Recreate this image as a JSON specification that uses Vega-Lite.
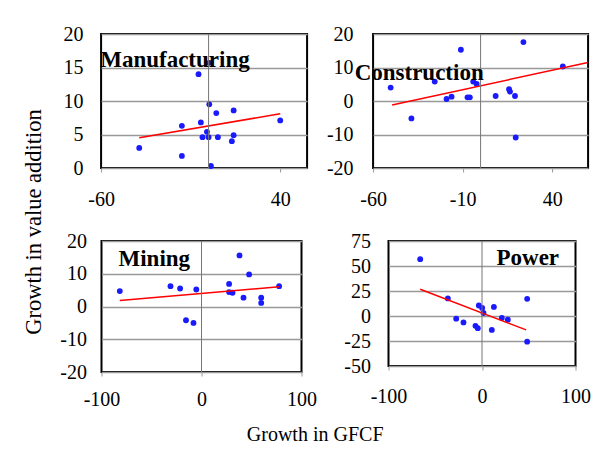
{
  "$schema": "https://vega.github.io/schema/vega-lite/v6.json",
  "background": "white",
  "padding": {"left": 23, "top": 23, "right": 5, "bottom": 5},
  "datasets": {
    "points": [
      {"panel": "Manufacturing", "x": -38.7, "y": 3.0},
      {"panel": "Manufacturing", "x": -14.9, "y": 6.3},
      {"panel": "Manufacturing", "x": -14.9, "y": 1.8},
      {"panel": "Manufacturing", "x": -5.6, "y": 14.0},
      {"panel": "Manufacturing", "x": -4.3, "y": 6.8},
      {"panel": "Manufacturing", "x": -3.4, "y": 4.6},
      {"panel": "Manufacturing", "x": -0.9, "y": 5.4},
      {"panel": "Manufacturing", "x": 0.0, "y": 4.6},
      {"panel": "Manufacturing", "x": 0.4, "y": 9.5},
      {"panel": "Manufacturing", "x": 1.3, "y": 0.3},
      {"panel": "Manufacturing", "x": 4.3, "y": 8.2},
      {"panel": "Manufacturing", "x": 5.2, "y": 4.6},
      {"panel": "Manufacturing", "x": 13.0, "y": 4.0},
      {"panel": "Manufacturing", "x": 14.0, "y": 8.6},
      {"panel": "Manufacturing", "x": 14.0, "y": 4.9},
      {"panel": "Manufacturing", "x": 40.0, "y": 7.1},
      {"panel": "Manufacturing", "x": 0.4, "y": 15.7},
      {"panel": "Construction", "x": -50.2, "y": 4.0},
      {"panel": "Construction", "x": -38.6, "y": -5.2},
      {"panel": "Construction", "x": -25.6, "y": 5.8},
      {"panel": "Construction", "x": -19.0, "y": 0.6},
      {"panel": "Construction", "x": -16.2, "y": 1.3},
      {"panel": "Construction", "x": -11.0, "y": 15.3},
      {"panel": "Construction", "x": -7.3, "y": 1.1},
      {"panel": "Construction", "x": -6.0, "y": 1.1},
      {"panel": "Construction", "x": -4.1, "y": 5.8},
      {"panel": "Construction", "x": -2.2, "y": 5.1},
      {"panel": "Construction", "x": 8.4, "y": 1.5},
      {"panel": "Construction", "x": 15.9, "y": 3.5},
      {"panel": "Construction", "x": 16.4, "y": 2.8},
      {"panel": "Construction", "x": 19.2, "y": 1.5},
      {"panel": "Construction", "x": 19.6, "y": -10.9},
      {"panel": "Construction", "x": 23.9, "y": 17.6},
      {"panel": "Construction", "x": 45.9, "y": 10.3},
      {"panel": "Mining", "x": -81.7, "y": 4.7},
      {"panel": "Mining", "x": -31.0, "y": 6.2},
      {"panel": "Mining", "x": -21.4, "y": 5.5},
      {"panel": "Mining", "x": -15.5, "y": -4.2},
      {"panel": "Mining", "x": -8.0, "y": -5.0},
      {"panel": "Mining", "x": -5.2, "y": 5.2},
      {"panel": "Mining", "x": 27.6, "y": 6.9},
      {"panel": "Mining", "x": 27.6, "y": 4.4},
      {"panel": "Mining", "x": 31.0, "y": 4.2},
      {"panel": "Mining", "x": 38.0, "y": 15.6},
      {"panel": "Mining", "x": 42.0, "y": 2.7},
      {"panel": "Mining", "x": 47.6, "y": 9.8},
      {"panel": "Mining", "x": 59.7, "y": 2.7},
      {"panel": "Mining", "x": 59.7, "y": 1.1},
      {"panel": "Mining", "x": 77.6, "y": 6.2},
      {"panel": "Power", "x": -66.1, "y": 56.8},
      {"panel": "Power", "x": -36.5, "y": 17.6},
      {"panel": "Power", "x": -27.6, "y": -2.7},
      {"panel": "Power", "x": -19.8, "y": -6.4},
      {"panel": "Power", "x": -7.0, "y": -9.8},
      {"panel": "Power", "x": -4.5, "y": -12.2},
      {"panel": "Power", "x": -3.4, "y": 10.5},
      {"panel": "Power", "x": 0.2, "y": 8.1},
      {"panel": "Power", "x": 1.6, "y": 3.0},
      {"panel": "Power", "x": 10.5, "y": -13.9},
      {"panel": "Power", "x": 12.7, "y": 9.1},
      {"panel": "Power", "x": 21.2, "y": -2.0},
      {"panel": "Power", "x": 27.6, "y": -3.7},
      {"panel": "Power", "x": 48.3, "y": 17.2},
      {"panel": "Power", "x": 48.3, "y": -25.7}
    ],
    "trend": [
      {"panel": "Manufacturing", "x": -38.7, "y": 4.5},
      {"panel": "Manufacturing", "x": 40.0, "y": 8.1},
      {"panel": "Construction", "x": -49.4, "y": -1.2},
      {"panel": "Construction", "x": 59.9, "y": 11.5},
      {"panel": "Mining", "x": -81.7, "y": 1.8},
      {"panel": "Mining", "x": 77.6, "y": 6.0},
      {"panel": "Power", "x": -66.1, "y": 26.7},
      {"panel": "Power", "x": 47.2, "y": -13.9}
    ],
    "labels": [
      {"panel": "Manufacturing", "label": "Manufacturing"},
      {"panel": "Construction", "label": "Construction"},
      {"panel": "Mining", "label": "Mining"},
      {"panel": "Power", "label": "Power"}
    ]
  },
  "title": {
    "text": "Growth in value addition",
    "orient": "left",
    "anchor": "middle",
    "font": "Liberation Serif",
    "fontSize": 22.5,
    "fontWeight": "normal",
    "color": "#000",
    "offset": 13,
    "dx": 12
  },
  "center": true,
  "spacing": 20,
  "vconcat": [
    {
      "hconcat": [
        {
          "width": 206,
          "height": 134,
          "layer": [
            {
              "data": {"name": "points"},
              "transform": [{"filter": "datum.panel === 'Manufacturing'"}],
              "mark": {"type": "circle", "size": 34, "color": "#1a1aff", "opacity": 1},
              "encoding": {
                "x": {"field": "x", "type": "quantitative", "scale": {"domain": [-60, 55], "nice": false, "zero": false},
                      "axis": {"values": [-60, 40], "title": null, "labelPadding": 17}},
                "y": {"field": "y", "type": "quantitative", "scale": {"domain": [0, 20], "nice": false},
                      "axis": {"values": [0, 5, 10, 15, 20], "title": null, "labelPadding": 18}}
              }
            },
            {
              "data": {"name": "trend"},
              "transform": [{"filter": "datum.panel === 'Manufacturing'"}],
              "mark": {"type": "line", "color": "#ff0000", "strokeWidth": 1.5},
              "encoding": {
                "x": {"field": "x", "type": "quantitative", "axis": {"values": [-60, 40], "title": null, "labelPadding": 17}},
                "y": {"field": "y", "type": "quantitative", "axis": {"values": [0, 5, 10, 15, 20], "title": null, "labelPadding": 18}}
              }
            },
            {
              "data": {"values": [{}]},
              "mark": {"type": "rule", "color": "#777777", "strokeWidth": 1},
              "encoding": {"x": {"datum": 0, "type": "quantitative", "axis": {"values": [-60, 40], "title": null, "labelPadding": 17}}}
            },
            {
              "data": {"name": "labels"},
              "transform": [{"filter": "datum.panel === 'Manufacturing'"}],
              "mark": {"type": "text", "font": "Liberation Serif", "fontSize": 23, "fontWeight": "bold", "align": "left", "baseline": "middle", "color": "#000"},
              "encoding": {
                "x": {"datum": -60.5, "type": "quantitative", "axis": {"values": [-60, 40], "title": null, "labelPadding": 17}},
                "y": {"datum": 16.1, "type": "quantitative", "axis": {"values": [0, 5, 10, 15, 20], "title": null, "labelPadding": 18}},
                "text": {"field": "label"}
              }
            }
          ]
        },
        {
          "width": 215,
          "height": 134,
          "layer": [
            {
              "data": {"name": "points"},
              "transform": [{"filter": "datum.panel === 'Construction'"}],
              "mark": {"type": "circle", "size": 34, "color": "#1a1aff", "opacity": 1},
              "encoding": {
                "x": {"field": "x", "type": "quantitative", "scale": {"domain": [-60, 60], "nice": false, "zero": false},
                      "axis": {"values": [-60, -10, 40], "title": null, "labelPadding": 17}},
                "y": {"field": "y", "type": "quantitative", "scale": {"domain": [-20, 20], "nice": false},
                      "axis": {"values": [-20, -10, 0, 10, 20], "title": null, "labelPadding": 20}}
              }
            },
            {
              "data": {"name": "trend"},
              "transform": [{"filter": "datum.panel === 'Construction'"}],
              "mark": {"type": "line", "color": "#ff0000", "strokeWidth": 1.5},
              "encoding": {
                "x": {"field": "x", "type": "quantitative", "axis": {"values": [-60, -10, 40], "title": null, "labelPadding": 17}},
                "y": {"field": "y", "type": "quantitative", "axis": {"values": [-20, -10, 0, 10, 20], "title": null, "labelPadding": 20}}
              }
            },
            {
              "data": {"values": [{}]},
              "mark": {"type": "rule", "color": "#777777", "strokeWidth": 1},
              "encoding": {"x": {"datum": 0, "type": "quantitative", "axis": {"values": [-60, -10, 40], "title": null, "labelPadding": 17}}}
            },
            {
              "data": {"name": "labels"},
              "transform": [{"filter": "datum.panel === 'Construction'"}],
              "mark": {"type": "text", "font": "Liberation Serif", "fontSize": 23, "fontWeight": "bold", "align": "left", "baseline": "middle", "color": "#000"},
              "encoding": {
                "x": {"datum": -70.3, "type": "quantitative", "axis": {"values": [-60, -10, 40], "title": null, "labelPadding": 17}},
                "y": {"datum": 8.4, "type": "quantitative", "axis": {"values": [-20, -10, 0, 10, 20], "title": null, "labelPadding": 20}},
                "text": {"field": "label"}
              }
            }
          ]
        }
      ],
      "spacing": 66,
      "bounds": "flush"
    },
    {
      "hconcat": [
        {
          "width": 200,
          "height": 131,
          "layer": [
            {
              "data": {"name": "points"},
              "transform": [{"filter": "datum.panel === 'Mining'"}],
              "mark": {"type": "circle", "size": 34, "color": "#1a1aff", "opacity": 1},
              "encoding": {
                "x": {"field": "x", "type": "quantitative", "scale": {"domain": [-100, 100], "nice": false, "zero": false},
                      "axis": {"values": [-100, 0, 100], "title": null, "labelPadding": 13}},
                "y": {"field": "y", "type": "quantitative", "scale": {"domain": [-20, 20], "nice": false},
                      "axis": {"values": [-20, -10, 0, 10, 20], "title": null, "labelPadding": 15}}
              }
            },
            {
              "data": {"name": "trend"},
              "transform": [{"filter": "datum.panel === 'Mining'"}],
              "mark": {"type": "line", "color": "#ff0000", "strokeWidth": 1.5},
              "encoding": {
                "x": {"field": "x", "type": "quantitative", "axis": {"values": [-100, 0, 100], "title": null, "labelPadding": 13}},
                "y": {"field": "y", "type": "quantitative", "axis": {"values": [-20, -10, 0, 10, 20], "title": null, "labelPadding": 15}}
              }
            },
            {
              "data": {"values": [{}]},
              "mark": {"type": "rule", "color": "#777777", "strokeWidth": 1},
              "encoding": {"x": {"datum": 0, "type": "quantitative", "axis": {"values": [-100, 0, 100], "title": null, "labelPadding": 13}}}
            },
            {
              "data": {"name": "labels"},
              "transform": [{"filter": "datum.panel === 'Mining'"}],
              "mark": {"type": "text", "font": "Liberation Serif", "fontSize": 23, "fontWeight": "bold", "align": "left", "baseline": "middle", "color": "#000"},
              "encoding": {
                "x": {"datum": -83, "type": "quantitative", "axis": {"values": [-100, 0, 100], "title": null, "labelPadding": 13}},
                "y": {"datum": 14.5, "type": "quantitative", "axis": {"values": [-20, -10, 0, 10, 20], "title": null, "labelPadding": 15}},
                "text": {"field": "label"}
              }
            }
          ]
        },
        {
          "width": 187,
          "height": 125,
          "layer": [
            {
              "data": {"name": "points"},
              "transform": [{"filter": "datum.panel === 'Power'"}],
              "mark": {"type": "circle", "size": 34, "color": "#1a1aff", "opacity": 1},
              "encoding": {
                "x": {"field": "x", "type": "quantitative", "scale": {"domain": [-100, 100], "nice": false, "zero": false},
                      "axis": {"values": [-100, 0, 100], "title": null, "labelPadding": 16}},
                "y": {"field": "y", "type": "quantitative", "scale": {"domain": [-50, 75], "nice": false},
                      "axis": {"values": [-50, -25, 0, 25, 50, 75], "title": null, "labelPadding": 18}}
              }
            },
            {
              "data": {"name": "trend"},
              "transform": [{"filter": "datum.panel === 'Power'"}],
              "mark": {"type": "line", "color": "#ff0000", "strokeWidth": 1.5},
              "encoding": {
                "x": {"field": "x", "type": "quantitative", "axis": {"values": [-100, 0, 100], "title": null, "labelPadding": 16}},
                "y": {"field": "y", "type": "quantitative", "axis": {"values": [-50, -25, 0, 25, 50, 75], "title": null, "labelPadding": 18}}
              }
            },
            {
              "data": {"values": [{}]},
              "mark": {"type": "rule", "color": "#777777", "strokeWidth": 1},
              "encoding": {"x": {"datum": 0, "type": "quantitative", "axis": {"values": [-100, 0, 100], "title": null, "labelPadding": 16}}}
            },
            {
              "data": {"name": "labels"},
              "transform": [{"filter": "datum.panel === 'Power'"}],
              "mark": {"type": "text", "font": "Liberation Serif", "fontSize": 23, "fontWeight": "bold", "align": "left", "baseline": "middle", "color": "#000"},
              "encoding": {
                "x": {"datum": 15.5, "type": "quantitative", "axis": {"values": [-100, 0, 100], "title": null, "labelPadding": 16}},
                "y": {"datum": 57.9, "type": "quantitative", "axis": {"values": [-50, -25, 0, 25, 50, 75], "title": null, "labelPadding": 18}},
                "text": {"field": "label"}
              }
            }
          ]
        }
      ],
      "spacing": 87,
      "bounds": "flush",
      "title": {
        "text": "Growth in GFCF",
        "orient": "bottom",
        "anchor": "middle",
        "font": "Liberation Serif",
        "fontSize": 20,
        "fontWeight": "normal",
        "color": "#000",
        "offset": 15,
        "dx": -10
      }
    }
  ],
  "config": {
    "view": {"stroke": "#000000", "strokeWidth": 2},
    "axis": {
      "labelFont": "Liberation Serif",
      "labelFontSize": 20,
      "labelColor": "#000000",
      "labelExpr": "'' + datum.value",
      "domain": false,
      "labelFlush": false,
      "labelOverlap": false
    },
    "axisX": {"grid": false, "ticks": true, "tickColor": "#999999", "tickSize": 4, "tickWidth": 1},
    "axisY": {"grid": true, "gridColor": "#999999", "gridWidth": 1.5, "ticks": false}
  }
}
